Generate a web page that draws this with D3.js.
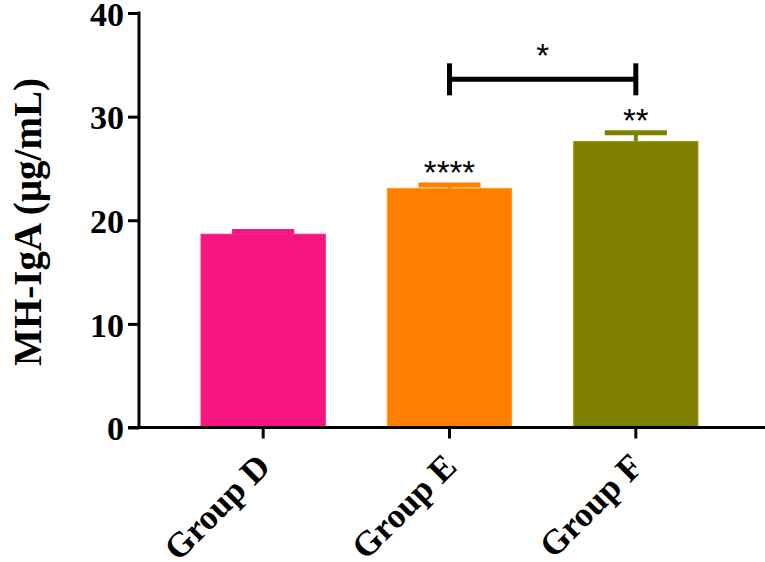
<!DOCTYPE html>
<html>
<head>
<meta charset="utf-8">
<script src="https://cdn.jsdelivr.net/npm/d3@7"></script>
<style>
  body { margin: 0; background: #fff; }
  svg { display: block; }
</style>
</head>
<body>
<svg id="chart"></svg>
<script>
// ---- data ----
const groups = ["Group D", "Group E", "Group F"];
const means = [18.65, 23.07, 27.6];
const sems = [0.27, 0.33, 0.85];
const barColors = ["#F7157F", "#FF7F00", "#808000"];
const yTicks = [0, 10, 20, 30, 40];
const stars = ["", "****", "**"];       // vs Group D
const bracketPair = ["Group E", "Group F"];
const bracketLevel = 33.6;
const bracketLabel = "*";

const width = 765, height = 562;
const axisX = 139, axisY = 427.5;

const svg = d3.select("#chart")
  .attr("width", width)
  .attr("height", height);

const x = d3.scaleBand()
  .domain(groups)
  .range([axisX, 760])
  .padding(0.333);

const y = d3.scaleLinear()
  .domain([0, 40])
  .range([axisY, 13]);

const serif = "'Liberation Serif', 'Times New Roman', serif";
const sans = "'Liberation Sans', Arial, sans-serif";

const data = groups.map((g, i) => ({ g: g, m: means[i], s: sems[i], c: barColors[i], star: stars[i] }));

// bars
svg.append("g").selectAll("rect")
  .data(data)
  .join("rect")
  .attr("x", d => x(d.g))
  .attr("y", d => y(d.m))
  .attr("width", x.bandwidth())
  .attr("height", d => y(0) - y(d.m))
  .attr("fill", d => d.c)
  .attr("stroke", d => d3.color(d.c).brighter(0.6))
  .attr("stroke-width", 1);

// error bars (upper only)
const err = svg.append("g");
err.selectAll("line.stem")
  .data(data)
  .join("line")
  .attr("class", "stem")
  .attr("x1", d => x(d.g) + x.bandwidth() / 2)
  .attr("x2", d => x(d.g) + x.bandwidth() / 2)
  .attr("y1", d => y(d.m))
  .attr("y2", d => y(d.m + d.s))
  .attr("stroke", d => d.c)
  .attr("stroke-width", 4);
err.selectAll("line.cap")
  .data(data)
  .join("line")
  .attr("class", "cap")
  .attr("x1", d => x(d.g) + x.bandwidth() / 4)
  .attr("x2", d => x(d.g) + x.bandwidth() * 3 / 4)
  .attr("y1", d => y(d.m + d.s))
  .attr("y2", d => y(d.m + d.s))
  .attr("stroke", d => d.c)
  .attr("stroke-width", 5);

// significance stars above bars
svg.append("g").selectAll("text")
  .data(data.filter(d => d.star))
  .join("text")
  .attr("x", d => x(d.g) + x.bandwidth() / 2)
  .attr("y", d => y(d.m + d.s) - 1)
  .attr("text-anchor", "middle")
  .style("font-family", sans)
  .style("font-size", "33px")
  .text(d => d.star);

// bracket between E and F
const bx1 = x(bracketPair[0]) + x.bandwidth() / 2;
const bx2 = x(bracketPair[1]) + x.bandwidth() / 2;
const by = y(bracketLevel);
const br = svg.append("g").attr("stroke", "#000").attr("stroke-width", 5);
br.append("line").attr("x1", bx1).attr("x2", bx2).attr("y1", by).attr("y2", by);
br.append("line").attr("x1", bx1).attr("x2", bx1).attr("y1", by - 16).attr("y2", by + 16);
br.append("line").attr("x1", bx2).attr("x2", bx2).attr("y1", by - 16).attr("y2", by + 16);
svg.append("text")
  .attr("x", (bx1 + bx2) / 2)
  .attr("y", by - 12)
  .attr("text-anchor", "middle")
  .style("font-family", sans)
  .style("font-size", "33px")
  .text(bracketLabel);

// y axis
const gy = svg.append("g")
  .attr("transform", "translate(" + axisX + ",0)")
  .call(d3.axisLeft(y).tickValues(yTicks).tickSize(11).tickSizeOuter(0).tickPadding(4));
gy.select(".domain").attr("d", "M0," + (y(40) - 1.5) + "V" + (axisY + 1.5));
gy.selectAll("line, path").attr("stroke", "#000").attr("stroke-width", 3);
gy.selectAll("text")
  .attr("dy", "0.36em")
  .style("font-family", serif)
  .style("font-weight", "bold")
  .style("font-size", "34px")
  .attr("fill", "#000");

// x axis
const gx = svg.append("g")
  .attr("transform", "translate(0," + axisY + ")")
  .call(d3.axisBottom(x).tickSize(11).tickSizeOuter(0));
gx.select(".domain").attr("d", "M" + (axisX - 11) + ",0H" + width);
gx.selectAll("line, path").attr("stroke", "#000").attr("stroke-width", 3);
gx.selectAll("text")
  .attr("y", 0)
  .attr("dy", 0)
  .attr("text-anchor", "end")
  .attr("transform", "translate(9,41) rotate(-45)")
  .style("font-family", serif)
  .style("font-weight", "bold")
  .style("font-size", "35px")
  .attr("fill", "#000");

// y axis title
svg.append("text")
  .attr("transform", "translate(41,222) rotate(-90)")
  .attr("text-anchor", "middle")
  .style("font-family", serif)
  .style("font-weight", "bold")
  .style("font-size", "39px")
  .text("MH-IgA (µg/mL)");
</script>
</body>
</html>
